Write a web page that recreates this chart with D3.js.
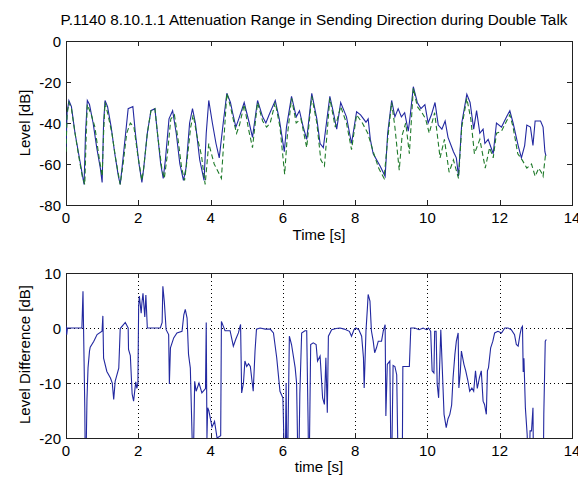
<!DOCTYPE html>
<html>
<head>
<meta charset="utf-8">
<script src="https://cdn.jsdelivr.net/npm/d3@7"></script>
<style>
  body { margin: 0; background: #fff; }
  text { font-family: "Liberation Sans", Arial, sans-serif; fill: #000; }
</style>
</head>
<body>
<div id="chart"></div>
<script>
// sending level (blue) and reference level (green), dB over time
var sendTime = [0.00,0.03,0.08,0.15,0.25,0.35,0.45,0.50,0.54,0.59,0.65,0.75,0.85,0.95,1.00,1.04,1.08,1.15,1.25,1.35,1.45,1.50,1.55,1.65,1.72,1.85,1.92,2.02,2.10,2.15,2.25,2.35,2.46,2.53,2.62,2.69,2.75,2.85,2.95,3.05,3.15,3.25,3.32,3.42,3.50,3.58,3.70,3.82,3.88,3.95,4.05,4.15,4.24,4.35,4.45,4.55,4.61,4.70,4.78,4.93,5.00,5.07,5.16,5.30,5.44,5.53,5.62,5.79,5.90,6.04,6.10,6.24,6.37,6.46,6.55,6.66,6.80,6.94,7.03,7.12,7.30,7.40,7.49,7.60,7.76,7.90,8.04,8.15,8.30,8.36,8.42,8.50,8.69,8.83,8.90,9.01,9.10,9.19,9.28,9.37,9.47,9.52,9.61,9.72,9.82,9.93,10.02,10.11,10.21,10.30,10.40,10.49,10.57,10.72,10.80,10.86,10.95,11.09,11.18,11.28,11.36,11.45,11.54,11.59,11.68,11.82,11.91,12.05,12.19,12.28,12.37,12.51,12.60,12.69,12.75,12.85,12.92,12.98,13.13,13.20,13.25,13.28];
var sendLevel = [-52,-35,-29,-32,-45,-55,-65,-70,-45,-29,-31,-40,-52,-62,-69,-40,-29,-32,-42,-55,-66,-70,-62,-45,-33,-32,-45,-60,-69,-62,-45,-34,-33,-45,-60,-67,-58,-38,-34,-45,-60,-68,-62,-40,-33,-40,-58,-68,-45,-29,-40,-50,-57,-40,-25.5,-30,-35,-42,-38,-30,-35,-40,-47,-29,-37,-40,-36,-29,-38,-54,-42,-27,-37,-34,-41,-48,-25.5,-38,-50,-52,-27,-35,-43,-30,-37,-50,-34.5,-36,-39.6,-38,-48,-55,-61,-66,-45,-29,-37,-33,-37,-35,-44,-37,-22.3,-30,-33,-31,-40,-36,-30,-41,-43,-39,-47,-54,-57,-66,-40,-26,-30,-43,-34,-45,-43,-50,-48,-55,-40,-42,-37,-34,-40,-51,-57,-51,-41,-42,-51,-39,-39,-42,-54,-56];

var refTime = [0.00,0.03,0.08,0.15,0.25,0.35,0.45,0.52,0.56,0.59,0.70,0.80,0.90,1.00,1.04,1.08,1.15,1.27,1.38,1.50,1.58,1.68,1.78,1.88,1.98,2.10,2.15,2.25,2.35,2.46,2.55,2.65,2.72,2.80,2.90,3.00,3.10,3.20,3.28,3.35,3.45,3.52,3.62,3.75,3.85,3.95,4.10,4.30,4.45,4.55,4.65,4.72,4.80,4.93,5.05,5.16,5.30,5.44,5.55,5.65,5.79,5.92,6.05,6.12,6.24,6.37,6.50,6.66,6.80,6.94,7.05,7.15,7.30,7.45,7.60,7.76,7.90,8.04,8.20,8.35,8.50,8.65,8.80,8.90,9.01,9.10,9.22,9.30,9.40,9.50,9.61,9.72,9.85,9.95,10.05,10.20,10.35,10.47,10.60,10.72,10.86,10.95,11.09,11.20,11.30,11.45,11.60,11.72,11.82,11.91,12.05,12.19,12.28,12.37,12.50,12.62,12.75,12.88,12.98,13.08,13.15,13.20,13.27];
var refLevel = [-54,-36,-30,-33,-45,-56,-66,-70,-45,-31,-36,-42,-55,-66,-45,-30,-35,-45,-58,-70,-60,-45,-40,-42,-55,-68,-62,-45,-34,-33,-48,-62,-67,-56,-38,-36,-48,-62,-68,-58,-42,-36,-46,-56,-70,-50,-60,-67,-25.5,-32,-40,-45,-41,-31,-43,-52,-30,-39,-42,-40,-30,-42,-65,-47,-28,-40,-38,-52,-27,-40,-58,-61,-28,-42,-32,-40,-53,-36,-40,-45,-54,-62,-67,-48,-30,-42,-63,-46,-40,-55,-23,-32,-35,-38,-45,-35,-57,-48,-64,-58,-67,-42,-28,-38,-55,-48,-62,-52,-57,-45,-44,-39,-36,-42,-55,-58,-62,-60,-66,-62,-64,-66,-55];

// level difference, dB over time
var diffTime = [0.00,0.02,0.04,0.10,0.44,0.47,0.50,0.52,0.54,0.58,0.61,0.65,0.67,0.77,0.86,0.997,1.02,1.04,1.13,1.23,1.28,1.32,1.36,1.46,1.50,1.64,1.72,1.73,1.78,1.83,1.87,1.93,1.96,1.99,2.01,2.03,2.08,2.10,2.13,2.18,2.21,2.25,2.61,2.66,2.68,2.72,2.77,2.84,2.86,2.89,2.98,3.07,3.21,3.26,3.30,3.35,3.39,3.44,3.49,3.51,3.56,3.60,3.68,3.76,3.86,3.88,3.90,3.92,3.95,4.04,4.11,4.18,4.28,4.30,4.40,4.54,4.63,4.70,4.77,4.83,4.86,4.91,4.95,5.00,5.05,5.10,5.18,5.23,5.27,5.37,5.51,5.65,5.74,5.83,5.92,6.00,6.01,6.06,6.09,6.12,6.18,6.24,6.34,6.38,6.43,6.47,6.52,6.61,6.66,6.70,6.72,6.77,6.84,6.92,6.96,7.03,7.10,7.15,7.19,7.23,7.26,7.35,7.47,7.58,7.70,7.84,7.90,7.97,8.02,8.10,8.18,8.23,8.25,8.30,8.34,8.36,8.41,8.45,8.50,8.54,8.59,8.64,8.73,8.78,8.83,8.85,8.89,8.96,9.00,9.05,9.10,9.15,9.20,9.30,9.32,9.50,9.54,9.65,9.77,9.88,9.97,10.03,10.09,10.13,10.18,10.20,10.24,10.27,10.31,10.37,10.41,10.46,10.52,10.57,10.62,10.67,10.71,10.76,10.80,10.85,10.87,10.91,10.94,11.01,11.06,11.12,11.17,11.23,11.28,11.33,11.38,11.44,11.49,11.54,11.58,11.63,11.66,11.69,11.75,11.81,11.86,11.95,12.05,12.14,12.23,12.32,12.41,12.46,12.51,12.56,12.60,12.63,12.65,12.67,12.71,12.76,12.80,12.84,12.88,12.92,12.94,13.00,13.20,13.22,13.26,13.29];
var diffLevel = [0.4,-1.2,0,0,0,6.7,-6,-14.5,-30,-13,-7.2,-4.2,-3.5,-2.4,-1.2,-0.6,2.2,-5.5,-7.9,-9.1,-10,-13,-9.7,-7.3,-0.1,1,0,-3.9,-5,-12,-13.3,-9.8,-11,-10,4,5.8,2.7,4.5,6.3,2,6,0,0,1,7.6,4.8,-0.3,-1.2,-10.2,-3.6,-1.8,-0.9,-0.6,2.4,3.4,1.8,-4.8,-7.3,-20,-30,-9.7,-11.5,-10,-11.8,-11,1,-20,-14.5,-15,-18,-17,-20,-19.6,1.2,-0.5,-0.5,-3.3,-2,-0.9,0.65,-11.8,-10,-6,-7,-6.5,-7,-11.5,-4.2,-0.2,0,-0.2,-0.2,-0.9,-5.4,-11.5,-12.7,-15,-30,-10,-30,-1.5,-3,-7.2,-10,-30,-12,-0.9,-0.5,-0.5,-17.8,-30,-3,-2.7,-3,-6,-5.1,-12.7,-13.9,-5.4,-15.4,-1.5,-0.3,-0.1,0,-0.2,-0.6,-1.5,-0.3,0,-0.3,-1.5,-5.4,-10.9,-0.5,3.7,6.1,4.9,-0.5,-2.4,-4.5,-3.6,-2.4,-2.4,-0.5,0.6,-16,-6.6,-6,-30,-6.8,-7,-8.5,-30,-30,-7,-7,0,0,-0.3,0,-0.3,0,-0.6,-7.8,-8.2,-0.6,-0.6,-10.2,-12.7,-0.3,-7.2,-15.7,-18.1,-16.5,-15.7,-14,-9,-4.8,-2.4,-0.9,-10.9,-8,-4.2,-6.6,-7.8,-9.6,-11.5,-10.9,-11.5,-7.8,-11,-9,-7.8,-13.3,-13.9,-15.7,-7.8,-7.2,-3.6,-2.4,-0.9,-0.6,-0.9,0,0,-0.3,-1.2,-3,-3.3,-1.2,0,0.3,-8,-5.5,-14.5,-19.4,-30,-18.7,-18.7,-14.5,-30,-30,-30,-15.7,-2.4,-2.1];

var xTicks = [0, 2, 4, 6, 8, 10, 12, 14];
var levelTicks = [0, -20, -40, -60, -80];
var diffTicks = [10, 0, -10, -20];

var width = 578, height = 477;
var left = 66, right = 572;

var svg = d3.select("#chart").append("svg")
    .attr("width", width)
    .attr("height", height);

svg.append("rect").attr("width", width).attr("height", height).attr("fill", "#fff");

var x = d3.scaleLinear().domain([0, 14]).range([left, right]);
var yTop = d3.scaleLinear().domain([-80, 0]).range([205, 41]);
var yBot = d3.scaleLinear().domain([-20, 10]).range([438, 273]);

function drawAxes(y, yTicks, grid, clipId) {
    var y0 = y.range()[0], y1 = y.range()[1];

    svg.append("clipPath").attr("id", clipId)
        .append("rect")
        .attr("x", left).attr("y", y1)
        .attr("width", right - left).attr("height", y0 - y1);

    if (grid) {
        var g = svg.append("g").attr("stroke", "#000").attr("stroke-width", 1)
            .attr("stroke-dasharray", "1,3");
        xTicks.slice(1, -1).forEach(function (t) {
            g.append("line").attr("x1", Math.round(x(t)) + 0.5).attr("x2", Math.round(x(t)) + 0.5)
                .attr("y1", y1).attr("y2", y0);
        });
        yTicks.slice(1, -1).forEach(function (t) {
            g.append("line").attr("x1", left).attr("x2", right)
                .attr("y1", Math.round(y(t)) + 0.5).attr("y2", Math.round(y(t)) + 0.5);
        });
    }

    // inside ticks on all four sides
    var tk = svg.append("g").attr("stroke", "#222").attr("stroke-width", 1);
    xTicks.forEach(function (t) {
        var px = Math.round(x(t)) + 0.5;
        tk.append("line").attr("x1", px).attr("x2", px).attr("y1", y0).attr("y2", y0 - 5);
        tk.append("line").attr("x1", px).attr("x2", px).attr("y1", y1).attr("y2", y1 + 5);
    });
    yTicks.forEach(function (t) {
        var py = Math.round(y(t)) + 0.5;
        tk.append("line").attr("x1", left).attr("x2", left + 5).attr("y1", py).attr("y2", py);
        tk.append("line").attr("x1", right).attr("x2", right - 5).attr("y1", py).attr("y2", py);
    });

    svg.append("rect")
        .attr("x", left + 0.5).attr("y", y1 + 0.5)
        .attr("width", right - left).attr("height", y0 - y1)
        .attr("fill", "none").attr("stroke", "#222").attr("stroke-width", 1);

    svg.append("g").selectAll("text").data(xTicks).enter().append("text")
        .attr("x", function (d) { return x(d); })
        .attr("y", y0 + 18)
        .attr("text-anchor", "middle")
        .style("font-size", "15px")
        .text(function (d) { return d; });

    svg.append("g").selectAll("text").data(yTicks).enter().append("text")
        .attr("x", left - 5)
        .attr("y", function (d) { return y(d) + 5.5; })
        .attr("text-anchor", "end")
        .style("font-size", "15px")
        .text(function (d) { return d; });
}

drawAxes(yTop, levelTicks, false, "clipTop");
drawAxes(yBot, diffTicks, true, "clipBot");

function series(times, values) {
    return times.map(function (t, i) { return [t, values[i]]; });
}

var lineTop = d3.line().x(function (d) { return x(d[0]); }).y(function (d) { return yTop(d[1]); });
var lineBot = d3.line().x(function (d) { return x(d[0]); }).y(function (d) { return yBot(d[1]); });

svg.append("path")
    .datum(series(sendTime, sendLevel))
    .attr("clip-path", "url(#clipTop)")
    .attr("d", lineTop)
    .attr("fill", "none")
    .attr("stroke", "#2228a0")
    .attr("stroke-width", 1.1);

svg.append("path")
    .datum(series(refTime, refLevel))
    .attr("clip-path", "url(#clipTop)")
    .attr("d", lineTop)
    .attr("fill", "none")
    .attr("stroke", "#1f7a2a")
    .attr("stroke-width", 1.1)
    .attr("stroke-dasharray", "5,3");

svg.append("path")
    .datum(series(diffTime, diffLevel))
    .attr("clip-path", "url(#clipBot)")
    .attr("d", lineBot)
    .attr("fill", "none")
    .attr("stroke", "#2228a0")
    .attr("stroke-width", 1.1);

// titles and labels
svg.append("text")
    .attr("x", 314).attr("y", 25)
    .attr("text-anchor", "middle")
    .style("font-size", "15.3px")
    .text("P.1140 8.10.1.1 Attenuation Range in Sending Direction during Double Talk");

svg.append("text")
    .attr("x", 319).attr("y", 240)
    .attr("text-anchor", "middle")
    .style("font-size", "15px")
    .text("Time [s]");

svg.append("text")
    .attr("x", 319).attr("y", 472)
    .attr("text-anchor", "middle")
    .style("font-size", "15px")
    .text("time [s]");

svg.append("text")
    .attr("transform", "translate(30," + (yTop(-40)) + ") rotate(-90)")
    .attr("text-anchor", "middle")
    .style("font-size", "15px")
    .text("Level [dB]");

svg.append("text")
    .attr("transform", "translate(30," + (yBot(-5) - 1) + ") rotate(-90)")
    .attr("text-anchor", "middle")
    .style("font-size", "15px")
    .text("Level Difference [dB]");
</script>
</body>
</html>
